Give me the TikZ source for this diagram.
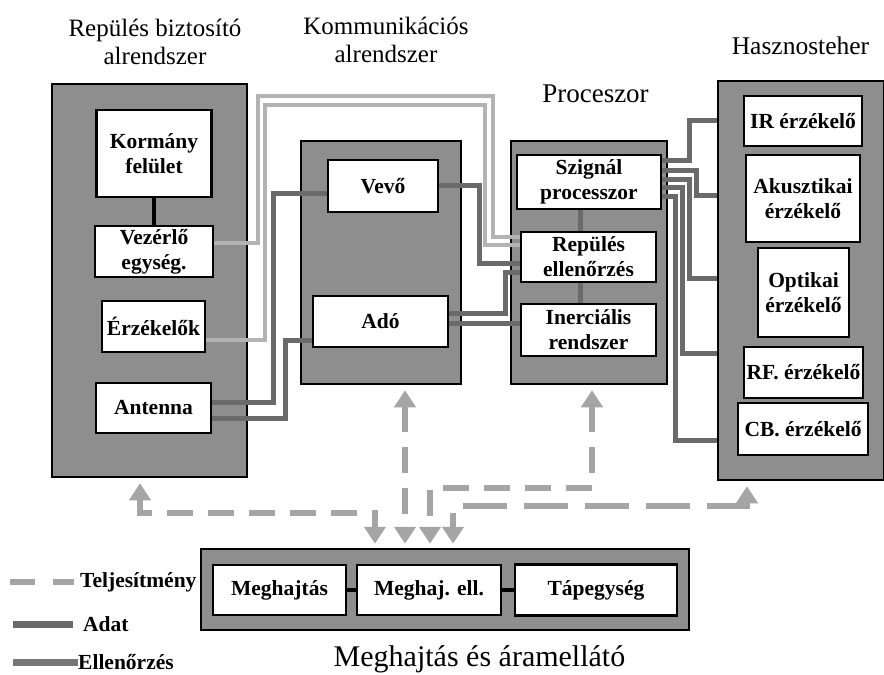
\documentclass[tikz,border=0pt]{standalone}
\usepackage{fontspec}
\setmainfont{Liberation Serif}
\usetikzlibrary{arrows.meta}
\definecolor{boxgray}{HTML}{8E8E8E}
\definecolor{linelight}{HTML}{B3B3B3}
\definecolor{linedark}{HTML}{6A6A6A}
\definecolor{linemid}{HTML}{777777}
\definecolor{powergray}{HTML}{A5A5A5}

\begin{document}
\begin{tikzpicture}[x=1pt,y=-1pt,>={Triangle[width=21pt,length=17pt]},
	Sys/.style={rectangle,fill=boxgray,draw=black,line width=2.5pt,inner sep=0pt},
	Unit/.style={rectangle,fill=white,draw=black,line width=2.5pt,inner sep=0pt,align=center,font=\fontsize{21.5}{25}\selectfont\bfseries},
	Title/.style={align=center,inner sep=0pt,font=\fontsize{25}{28}\selectfont},
	Key/.style={anchor=west,inner sep=0pt,font=\fontsize{21.5}{25}\selectfont\bfseries},
	Light/.style={linelight,line width=4pt},
	Data/.style={linedark,line width=5pt},
	Link/.style={black,line width=4pt},
	Power/.style={<->,powergray,line width=6pt,dash pattern=on 26pt off 15pt,shorten <=5pt,shorten >=4pt},
]
	\useasboundingbox (0,0) rectangle (884,675);

	\node[Sys,minimum width=195,minimum height=393] (rep) at (149.5,280.5) {};
	\node[Sys,minimum width=160,minimum height=243] (kom) at (381,262.5) {};
	\node[Sys,minimum width=156,minimum height=243] (proc) at (589,262.5) {};
	\node[Sys,minimum width=166,minimum height=399] (hasz) at (801,280.5) {};
	\node[Sys,minimum width=488,minimum height=81] (megh) at (445,589.5) {};

	\node[Title] (trep) at (155,42) {Repülés biztosító\\alrendszer};
	\node[Title] (tkom) at (386,40) {Kommunikációs\\alrendszer};
	\node[Title,font=\fontsize{27}{30}\selectfont] (tproc) at (595.5,94) {Proceszor};
	\node[Title,font=\fontsize{25.5}{28}\selectfont] (thasz) at (800.5,46) {Hasznosteher};
	\node[Title,font=\fontsize{30}{32}\selectfont] (tmegh) at (479.5,659) {Meghajtás és áramellátó};

	\node[Unit,minimum width=115,minimum height=87] (korm) at (154,153.5) {Kormány\\felület};
	\node[Unit,minimum width=118,minimum height=51] (vez) at (154,251.5) {Vezérlő\\egység.};
	\node[Unit,minimum width=103,minimum height=51] (erz) at (153.5,326.5) {Érzékelők};
	\node[Unit,minimum width=115,minimum height=50] (ant) at (153.5,408) {Antenna};

	\node[Unit,minimum width=110,minimum height=52] (vevo) at (383,186) {Vevő};
	\node[Unit,minimum width=135,minimum height=51] (ado) at (380.5,321.5) {Adó};

	\node[Unit,minimum width=144,minimum height=54] (szig) at (589,182) {Szignál\\processzor};
	\node[Unit,minimum width=135,minimum height=50] (repell) at (588.5,257) {Repülés\\ellenőrzés};
	\node[Unit,minimum width=135,minimum height=52] (iner) at (588.5,330) {Inerciális\\rendszer};

	\node[Unit,minimum width=118,minimum height=50] (ir) at (803,121) {IR érzékelő};
	\node[Unit,minimum width=114,minimum height=87] (akus) at (803,198.5) {Akusztikai\\érzékelő};
	\node[Unit,minimum width=91,minimum height=89] (opt) at (803.5,292.5) {Optikai\\érzékelő};
	\node[Unit,minimum width=119,minimum height=51] (rf) at (803.5,372.5) {RF. érzékelő};
	\node[Unit,minimum width=130,minimum height=52] (cb) at (803,429) {CB. érzékelő};

	\node[Unit,minimum width=133,minimum height=50] (hajt) at (279.5,590) {Meghajtás};
	\node[Unit,minimum width=144,minimum height=50] (hell) at (429,590) {Meghaj. ell.};
	\node[Unit,minimum width=162,minimum height=51] (tap) at (596,590) {Tápegység};

	\path[Link] (korm) edge (vez) (hajt) edge (hell) (hell) edge (tap);

	\draw[Light] (vez.east |- 0,243) -| (258,96) -| (493,237) -- (repell.west |- 0,237);
	\draw[Light] (erz.east |- 0,340) -| (265,105) -| (485,245) -- (repell.west |- 0,245);

	\draw[Data] (ant.east |- 0,402) -| (273,193) -- (vevo.west |- 0,193);
	\draw[Data] (ant.east |- 0,418) -| (285,340) -- (ado.west |- 0,340);
	\draw[Data] (vevo.east |- 0,185) -| (479,263) -- (repell.west |- 0,263);
	\draw[Data] (ado.east |- 0,313) -| (505,272) -- (repell.west |- 0,272);
	\draw[Data] (ado.east |- 0,323) -- (iner.west |- 0,323);
	\draw[Data] (szig.south -| 580,0) -- (repell.north -| 580,0);
	\draw[Data] (repell.south -| 580,0) -- (iner.north -| 580,0);

	\draw[Data] (szig.east |- 0,160) -| (689,120) -- (hasz.west |- 0,120);
	\draw[Data] (szig.east |- 0,170) -| (696,195) -- (hasz.west |- 0,195);
	\draw[Data] (szig.east |- 0,179) -| (689,278) -- (hasz.west |- 0,278);
	\draw[Data] (szig.east |- 0,187) -| (682,353) -- (hasz.west |- 0,353);
	\draw[Data] (szig.east |- 0,196) -| (675,440) -- (hasz.west |- 0,440);

	\draw[Power] (rep.south -| 140,0) |- (375,513) -- (megh.north -| 375,0);
	\draw[Power] (kom.south -| 405,0) -- (megh.north -| 405,0);
	\draw[Power] (proc.south -| 592,0) |- (430,488) -- (megh.north -| 430,0);
	\draw[Power,dash pattern=on 44pt off 17pt] (hasz.south -| 747,0) |- (453,506) -- (megh.north -| 453,0);

	\node[Key] (kpow) at (80,582) {Teljesítmény};
	\node[Key] (kdat) at (83,624) {Adat};
	\node[Key] (kell) at (78,662) {Ellenőrzés};
	\draw[powergray,line width=6pt,dash pattern=on 25pt off 18pt,shorten >=6pt] (10,582) -- (kpow.west);
	\draw[linedark,line width=7pt,shorten >=10pt] (13,624) -- (kdat.west);
	\draw[linemid,line width=7pt] (13,662) -- (kell.west);
\end{tikzpicture}
\end{document}
